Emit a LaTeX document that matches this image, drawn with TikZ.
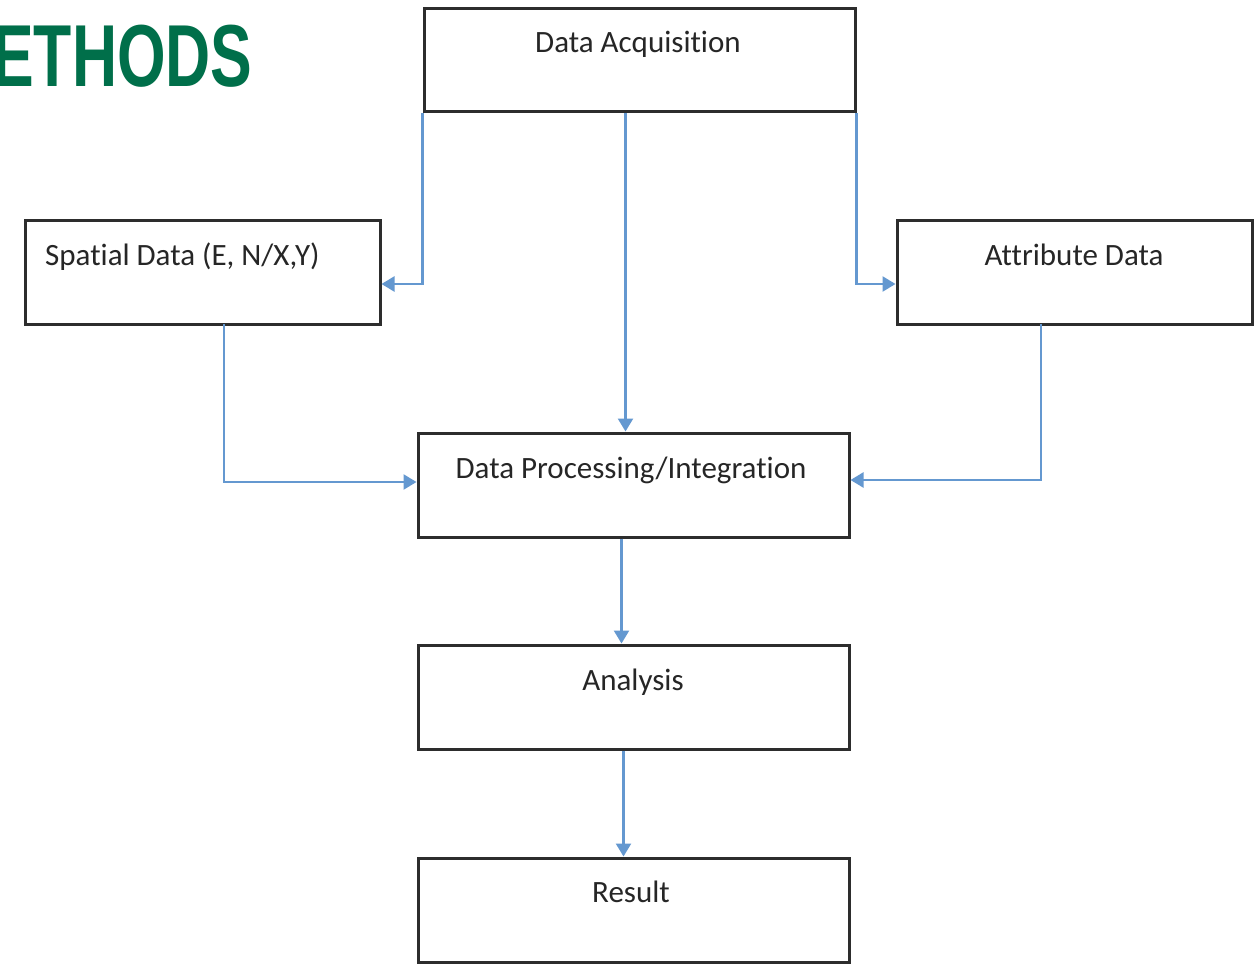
\documentclass[tikz,border=0pt]{standalone}
\usepackage{fontspec}
\setmainfont{Carlito}[Ligatures=NoCommon]
\newfontfamily\titlefont[FakeStretch=0.71]{Liberation Sans}
\usetikzlibrary{arrows.meta}
\definecolor{boxline}{RGB}{45,45,45}
\definecolor{arrowblue}{RGB}{100,152,208}
\definecolor{titlegreen}{RGB}{0,111,74}
\begin{document}
\begin{tikzpicture}[x=1pt,y=-1pt,
  box/.style={draw=boxline, line width=3pt, rectangle, inner sep=0pt},
  lbl/.style={font=\fontsize{31}{36}\selectfont, text=black!85, anchor=base, inner sep=0pt},
  conn/.style={draw=arrowblue, line width=2.4pt, -{Triangle[width=15pt,length=13pt]}}
]
\path[use as bounding box] (0,0) rectangle (1257,965);
\clip (0,0) rectangle (1257,965);
\fill[white] (0,0) rectangle (1257,965);

% title
\node[font=\titlefont\bfseries\fontsize{88}{90}\selectfont, text=titlegreen, anchor=base west, inner sep=0pt] (title) at (-8,87) {ETHODS};

% boxes
\node[box, minimum width=431pt, minimum height=103pt] (acq) at (639.5,60.5) {};
\node[box, minimum width=355pt, minimum height=103pt] (spat) at (202.5,272.5) {};
\node[box, minimum width=355pt, minimum height=103pt] (attr) at (1074.5,272.5) {};
\node[box, minimum width=431pt, minimum height=104pt] (proc) at (633.5,485) {};
\node[box, minimum width=431pt, minimum height=104pt] (ana) at (633.5,697) {};
\node[box, minimum width=431pt, minimum height=104pt] (res) at (633.5,910) {};

% labels
\node[lbl] (acqt) at (638,53) {Data Acquisition};
\node[lbl, anchor=base west] (spatt) at (45,266) {Spatial Data (E, N/X,Y)};
\node[lbl] (attrt) at (1074,266) {Attribute Data};
\node[lbl] (proct) at (631,478) {Data Processing/Integration};
\node[lbl] (anat) at (633,690) {Analysis};
\node[lbl] (rest) at (631,902) {Result};

% connectors
\draw[conn] (acq.south west) -- (acq.south west |- 0,284) -- (spat.east |- 0,284);
\draw[conn] (acq.south east) -- (acq.south east |- 0,284) -- (attr.west |- 0,284);
\draw[conn] ([xshift=-14pt]acq.south) -- ([xshift=-14pt]acq.south |- proc.north);
\draw[conn] (224,324) -- (224,482) -- (proc.west |- 0,482);
\draw[conn] (1041,324) -- (1041,480) -- (proc.east |- 0,480);
\draw[conn] ([xshift=-12pt]proc.south) -- ([xshift=-12pt]ana.north);
\draw[conn] ([xshift=-10pt]ana.south) -- ([xshift=-10pt]res.north);
\end{tikzpicture}
\end{document}
